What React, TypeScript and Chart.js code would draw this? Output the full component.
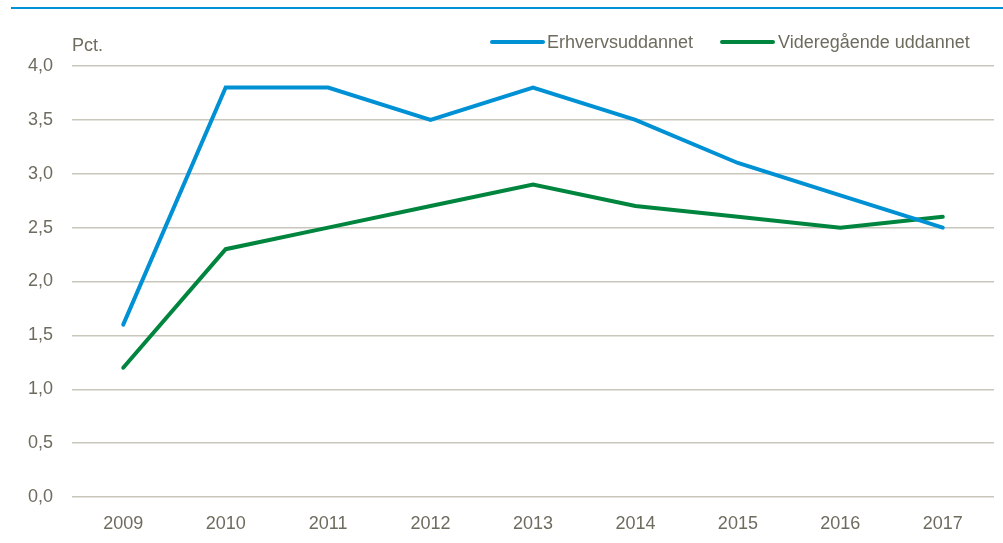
import React, { useEffect, useRef } from "react";
import { Chart, registerables } from "chart.js";

Chart.register(...registerables);

const years = ["2009", "2010", "2011", "2012", "2013", "2014", "2015", "2016", "2017"];
const erhverv = [1.6, 3.8, 3.8, 3.5, 3.8, 3.5, 3.1, 2.8, 2.5];
const videre = [1.2, 2.3, 2.5, 2.7, 2.9, 2.7, 2.6, 2.5, 2.6];
const seriesNames = ["Erhvervsuddannet", "Videregående uddannet"];
const unitLabel = "Pct.";

const BLUE = "#0091d5";
const GREEN = "#00853f";
const TEXT = "#6e6b5f";
const GRID = "#c9c6bb";
const FONT = "'Liberation Sans Narrow', 'Arial Narrow', 'Liberation Sans', Arial, sans-serif";
const FS = 18;

const overlayPlugin = {
  id: "overlay",
  afterDraw(chart: any) {
    const ctx = chart.ctx;
    ctx.save();
    ctx.fillStyle = TEXT;
    ctx.font = `${FS}px ${FONT}`;
    ctx.textAlign = "left";
    ctx.textBaseline = "alphabetic";
    ctx.fillText(unitLabel, chart.chartArea.left, 51);
    const items = [
      { x: 490, tx: 547, color: BLUE, label: seriesNames[0] },
      { x: 720, tx: 778, color: GREEN, label: seriesNames[1] },
    ];
    items.forEach((it) => {
      ctx.strokeStyle = it.color;
      ctx.lineWidth = 4;
      ctx.lineCap = "round";
      ctx.beginPath();
      ctx.moveTo(it.x + 2, 42);
      ctx.lineTo(it.x + 53, 42);
      ctx.stroke();
      ctx.fillStyle = TEXT;
      ctx.textBaseline = "middle";
      ctx.fillText(it.label, it.tx, 43);
    });
    ctx.restore();
  },
};

export default function App() {
  const ref = useRef<HTMLCanvasElement | null>(null);
  useEffect(() => {
    if (!ref.current) return;
    const chart = new Chart(ref.current, {
      type: "line",
      data: {
        labels: years,
        datasets: [
          {
            label: seriesNames[0],
            data: erhverv,
            borderColor: BLUE,
            backgroundColor: BLUE,
            borderWidth: 4,
            pointRadius: 0,
            tension: 0,
            borderCapStyle: "round",
          },
          {
            label: seriesNames[1],
            data: videre,
            borderColor: GREEN,
            backgroundColor: GREEN,
            borderWidth: 4,
            pointRadius: 0,
            tension: 0,
            borderCapStyle: "round",
          },
        ],
      },
      options: {
        animation: false,
        responsive: false,
        maintainAspectRatio: false,
        layout: { padding: { top: 66, right: 9, left: 0, bottom: 0 } },
        plugins: {
          legend: { display: false },
          tooltip: { enabled: false },
        },
        scales: {
          x: {
            offset: true,
            grid: { display: false },
            border: { display: false },
            ticks: {
              color: TEXT,
              font: { family: FONT, size: FS },
              padding: 8,
              maxRotation: 0,
            },
            afterFit(scale: any) {
              scale.height = 543 - 497;
            },
          },
          y: {
            min: 0,
            max: 4,
            grid: { color: GRID, lineWidth: 1.5, drawTicks: false },
            border: { display: false },
            ticks: {
              stepSize: 0.5,
              color: TEXT,
              font: { family: FONT, size: FS },
              padding: 19,
              callback: (v: any) => Number(v).toFixed(1).replace(".", ","),
            },
            afterFit(scale: any) {
              scale.width = 72;
            },
          },
        },
      },
      plugins: [overlayPlugin],
    });
    return () => chart.destroy();
  }, []);
  return (
    <div style={{ position: "fixed", left: 0, top: 0, width: 1003, height: 543, background: "#fff" }}>
      <div style={{ position: "absolute", left: 11, top: 7, width: 992, height: 2, background: BLUE }} />
      <canvas ref={ref} width={1003} height={543} style={{ display: "block", width: 1003, height: 543 }} />
    </div>
  );
}
